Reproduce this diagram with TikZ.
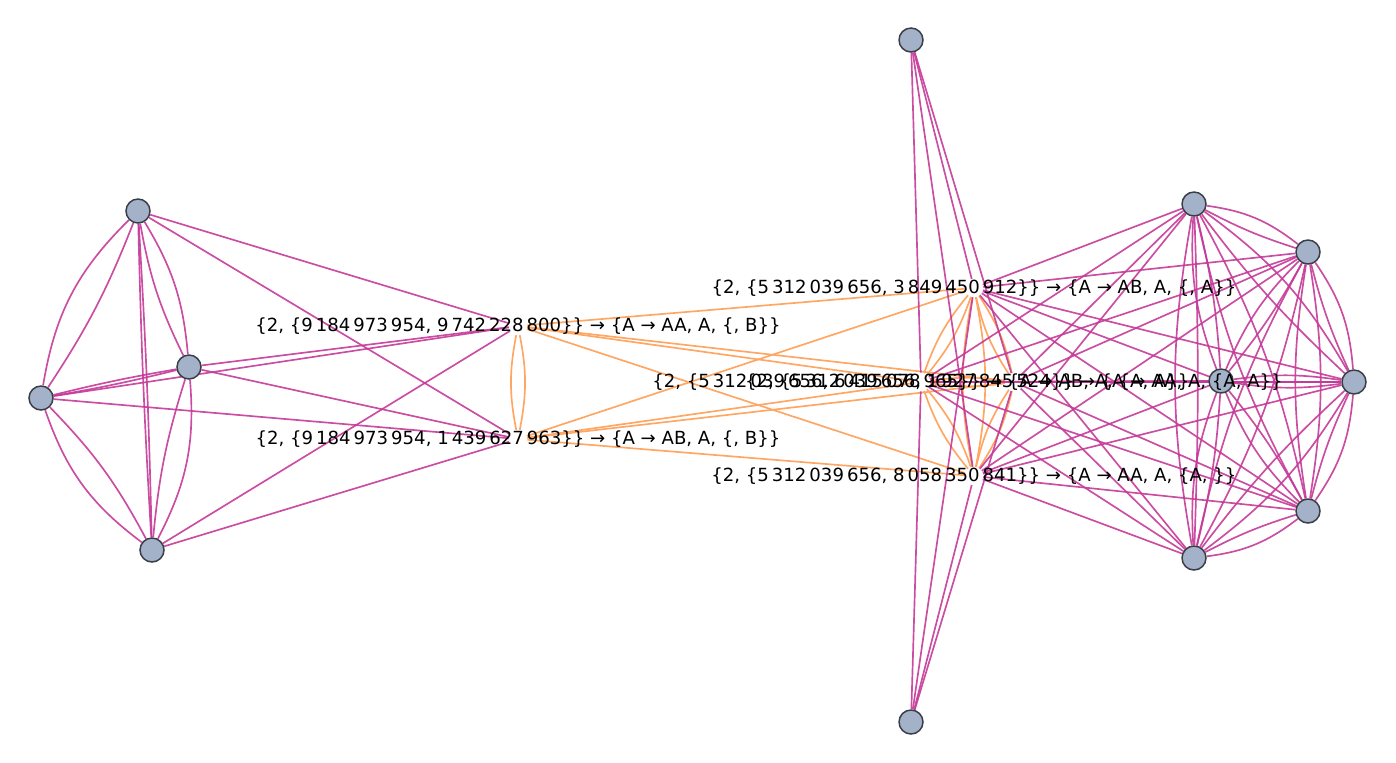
\documentclass[tikz,border=0pt]{standalone}
\usepackage{fontspec}
\setmainfont{DejaVu Sans}
\usetikzlibrary{shapes,backgrounds}
\definecolor{vfill}{RGB}{163,177,201}
\definecolor{vline}{RGB}{58,62,70}
\definecolor{epurple}{RGB}{196,58,152}
\definecolor{eorange}{RGB}{255,166,98}

\begin{document}
\begin{tikzpicture}[x=0.02cm,y=-0.02cm,
  vertex/.style={shape=circle,draw=vline,fill=vfill,line width=0.85pt,minimum size=0.48cm,inner sep=0pt},
  hub/.style={shape=circle,minimum size=0.36cm,inner sep=0pt},
  hubtext/.style={inner sep=0pt,font=\fontsize{10.3}{12}\selectfont},
  pline/.style={draw=epurple,line width=0.95pt,draw opacity=0.9},
  oline/.style={draw=eorange,line width=0.95pt}]
\useasboundingbox (0,0) rectangle (1396,762);

\node[vertex] (0) at (138,211) {};
\node[vertex] (1) at (189,367) {};
\node[vertex] (2) at (41,398) {};
\node[vertex] (3) at (152,550) {};
\node[vertex] (4) at (911,40) {};
\node[vertex] (5) at (911,722) {};
\node[vertex] (6) at (1194,204) {};
\node[vertex] (7) at (1308,252) {};
\node[vertex] (8) at (1354,382) {};
\node[vertex] (9) at (1221,381) {};
\node[vertex] (10) at (1308,511) {};
\node[vertex] (11) at (1194,558) {};

\node[hub] (s0) at (518,326) {};
\node[hub] (s1) at (518,439) {};
\node[hub] (s2) at (974,288) {};
\node[hub] (s3) at (974,476) {};
\node[hub] (s4) at (921,382) {};
\node[hub] (s5) at (1014,382) {};

\begin{pgfonlayer}{background}
\path [pline] (2) edge[bend left=18] (0) edge[bend right=6] (0);
\path [pline] (0) edge[bend left=13] (1) edge[bend right=8] (1);
\path [pline] (0) edge[bend left=1] (3) edge[bend right=1] (3);
\path [pline] (2) edge[bend left=2] (1) edge[bend right=2] (1);
\path [pline] (2) edge[bend right=17] (3) edge[bend left=8] (3);
\path [pline] (1) edge[bend left=16] (3) edge[bend right=6] (3);

\path [pline] (0) edge (s0) edge (s1);
\path [pline] (1) edge (s0) edge (s1);
\path [pline] (2) edge (s0) edge (s1);
\path [pline] (3) edge (s0) edge (s1);

\path [oline] (s0) edge[bend left=11] (s1) edge[bend right=11] (s1);
\path [oline] (s0) edge (s2) edge (s3) edge (s4) edge (s5);
\path [oline] (s1) edge (s2) edge (s3) edge (s4) edge (s5);
\path [oline] (s2) edge[bend left=11] (s3) edge[bend right=11] (s3);
\path [oline] (s2) edge[bend left=10] (s4) edge[bend right=10] (s4);
\path [oline] (s2) edge[bend left=10] (s5) edge[bend right=10] (s5);
\path [oline] (s4) edge[bend left=10] (s3) edge[bend right=10] (s3);
\path [oline] (s5) edge[bend left=10] (s3) edge[bend right=10] (s3);
\path [oline] (s4) edge[bend left=8] (s5) edge[bend right=8] (s5);

\path [pline] (s2) edge (4) edge (5) edge (6) edge (7) edge (8) edge (9) edge (10) edge (11);
\path [pline] (s3) edge (4) edge (5) edge (6) edge (7) edge (8) edge (9) edge (10) edge (11);
\path [pline] (s4) edge (4) edge (5) edge (6) edge (7) edge (8) edge (9) edge (10) edge (11);
\path [pline] (s5) edge (4) edge (5) edge (6) edge (7) edge (8) edge (9) edge (10) edge (11);

\path [pline] (6) edge[bend left=15] (7) edge[bend right=5] (7);
\path [pline] (6) edge[bend left=12] (8) edge[bend right=5] (8);
\path [pline] (6) edge[bend right=12] (9) edge[bend left=5] (9);
\path [pline] (6) edge[bend left=8] (10) edge[bend right=8] (10);
\path [pline] (6) edge[bend right=10] (11) edge[bend left=2] (11);
\path [pline] (7) edge[bend left=15] (8) edge[bend right=5] (8);
\path [pline] (7) edge[bend right=11] (9) edge[bend left=5] (9);
\path [pline] (7) edge[bend left=9] (10) edge[bend right=9] (10);
\path [pline] (7) edge[bend left=8] (11) edge[bend right=8] (11);
\path [pline] (8) edge[bend left=8] (9) edge[bend right=8] (9);
\path [pline] (8) edge[bend left=15] (10) edge[bend right=5] (10);
\path [pline] (8) edge[bend left=11] (11) edge[bend right=5] (11);
\path [pline] (9) edge[bend right=11] (10) edge[bend left=5] (10);
\path [pline] (9) edge[bend right=12] (11) edge[bend left=5] (11);
\path [pline] (10) edge[bend left=15] (11) edge[bend right=5] (11);
\end{pgfonlayer}

\node[hubtext] (t0) at (s0) {\{2, \{9\,184\,973\,954, 9\,742\,228\,800\}\} → \{A → AA, A, \{, B\}\}};
\node[hubtext] (t1) at (s1) {\{2, \{9\,184\,973\,954, 1\,439\,627\,963\}\} → \{A → AB, A, \{, B\}\}};
\node[hubtext] (t2) at (s2) {\{2, \{5\,312\,039\,656, 3\,849\,450\,912\}\} → \{A → AB, A, \{, A\}\}};
\node[hubtext] (t3) at (s3) {\{2, \{5\,312\,039\,656, 8\,058\,350\,841\}\} → \{A → AA, A, \{A, \}\}};
\node[hubtext] (t4) at (s4) {\{2, \{5\,312\,039\,656, 6\,415\,078\,965\}\} → \{A → AB, A, \{A, A\}\}};
\node[hubtext] (t5) at (s5) {\{2, \{5\,312\,039\,656, 1\,927\,845\,524\}\} → \{A → AA, A, \{A, A\}\}};
\end{tikzpicture}
\end{document}
